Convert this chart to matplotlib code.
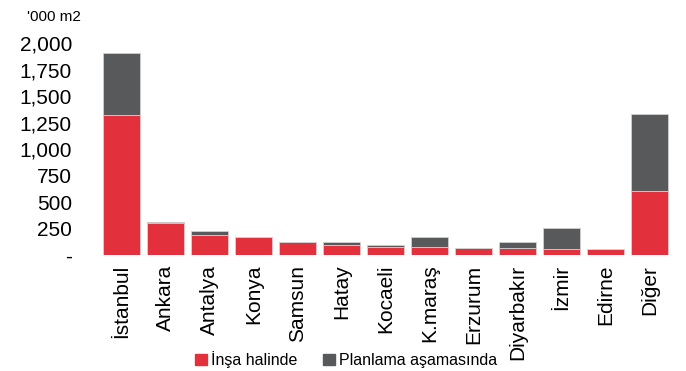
import numpy as np
import matplotlib.pyplot as plt
from matplotlib.ticker import FuncFormatter
from matplotlib.patches import Patch

plt.rcParams['font.family'] = ['Liberation Sans', 'DejaVu Sans']

# stock by city, '000 m2
cities = ["İstanbul", "Ankara", "Antalya", "Konya", "Samsun", "Hatay", "Kocaeli",
          "K.maraş", "Erzurum", "Diyarbakır", "İzmir", "Edirne", "Diğer"]
under_construction = [1321, 300, 185, 172, 125, 94, 80, 75, 63, 63, 56, 56, 604]
planned = [588, 7, 40, 0, 0, 25, 12, 91, 0, 56, 200, 0, 726]

red = "#e3303d"
grey = "#58595b"

fig = plt.figure(figsize=(6.86, 3.71), dpi=100)
ax = fig.add_axes([0.1453, 0.3127, 0.834, 0.5713])

x = np.arange(len(cities))
ax.bar(x, under_construction, width=0.84, color=red, edgecolor="#f0c8cc", linewidth=0.6)
ax.bar(x, planned, width=0.84, bottom=under_construction, color=grey,
       edgecolor="#cfcfcf", linewidth=0.6)

ax.set_xlim(-0.5, len(cities) - 0.5)
ax.set_ylim(0, 2000)
ax.set_yticks(np.arange(0, 2001, 250))
ax.yaxis.set_major_formatter(FuncFormatter(lambda v, p: "-" if v == 0 else f"{v:,.0f}"))
ax.set_xticks(x)
ax.set_xticklabels(cities, rotation=90, va="top", ha="center")
ax.tick_params(axis="both", length=0, labelsize=15)
ax.tick_params(axis="y", pad=20)
ax.tick_params(axis="x", pad=7)
for s in ax.spines.values():
    s.set_visible(False)

fig.text(0.04, 0.955, "'000 m2", fontsize=11, va="center", ha="left")

handles = [Patch(color=red, label="İnşa halinde"),
           Patch(color=grey, label="Planlama aşamasında")]
fig.legend(handles=handles, loc="lower center", bbox_to_anchor=(0.505, -0.03), ncol=2,
           frameon=False, fontsize=11.5, handlelength=0.7, handleheight=0.7,
           handletextpad=0.3, columnspacing=1.6)

fig.savefig("out.png", dpi=100)
